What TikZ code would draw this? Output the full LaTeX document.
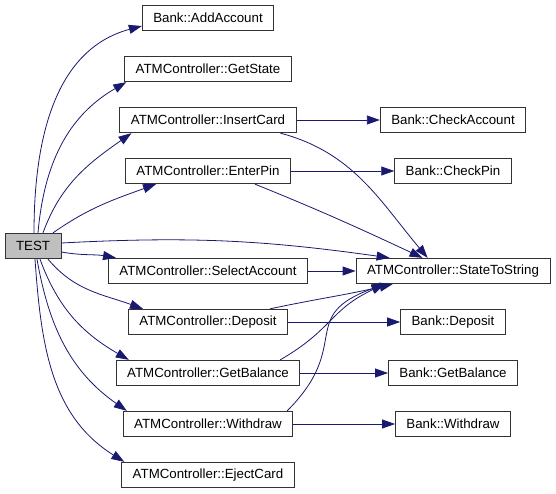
\documentclass[tikz,border=0pt]{standalone}
\usepackage{fontspec}
\setmainfont{Liberation Sans}
\usetikzlibrary{arrows.meta}
\definecolor{navy}{HTML}{191970}
\tikzset{
  fn/.style = {draw = black!80, line width = 0.8pt, fill = white,
    minimum height = 25.5pt, inner xsep = 11pt, inner ysep = 0pt,
    font = \fontsize{13.3}{15}\selectfont},
  root/.style = {fn, fill = black!25},
  call/.style = {draw = navy, line width = 0.8pt, -{Triangle[length = 13pt, width = 9pt]}},
}

\begin{document}
\begin{tikzpicture}[x = 1pt, y = 1pt]
            \useasboundingbox (0,0) rectangle (556,493);
            % caller
            \node[root](test)at(33,247){TEST};
            % first column
            \node[fn](addacc)at(208,475){Bank::AddAccount};
            \node[fn](getstate)at(208,424){ATMController::GetState};
            \node[fn](insertcard)at(208,373){ATMController::InsertCard};
            \node[fn](enterpin)at(208,322){ATMController::EnterPin};
            \node[fn](selectacc)at(208,222){ATMController::SelectAccount};
            \node[fn](deposit)at(208,171){ATMController::Deposit};
            \node[fn](getbal)at(208,120){ATMController::GetBalance};
            \node[fn](withdraw)at(208,69){ATMController::Withdraw};
            \node[fn](eject)at(208,18){ATMController::EjectCard};
            % second column
            \node[fn](checkacc)at(453,373){Bank::CheckAccount};
            \node[fn](checkpin)at(453,322){Bank::CheckPin};
            \node[fn](tostring)at(453,222){ATMController::StateToString};
            \node[fn](bdeposit)at(453,171){Bank::Deposit};
            \node[fn](bgetbal)at(453,120){Bank::GetBalance};
            \node[fn](bwithdraw)at(453,69){Bank::Withdraw};
            % TEST -> first column
            \path[call]([xshift=1pt]test.north)to[out=90,in=195]([yshift=-8pt]addacc.west);
            \path[call]([xshift=5pt]test.north)to[out=85,in=210]([xshift=2pt]getstate.south west);
            \path[call]([xshift=10pt]test.north)to[out=70,in=215]([xshift=12pt]insertcard.south west);
            \path[call]([xshift=20pt]test.north)to[out=35,in=200]([xshift=31pt]enterpin.south west);
            \path[call]([yshift=3pt]test.east)to[out=3,in=172]([xshift=34pt]tostring.north west);
            \path[call]([yshift=-6pt]test.east)to[out=-10,in=170]([xshift=8pt]selectacc.north west);
            \path[call]([xshift=15pt]test.south)to[out=-50,in=160]([xshift=15pt]deposit.north west);
            \path[call]([xshift=7pt]test.south)to[out=-70,in=150]([xshift=13pt]getbal.north west);
            \path[call]([xshift=4pt]test.south)to[out=-80,in=145]([xshift=4pt]withdraw.north west);
            \path[call]([xshift=2pt]test.south)to[out=-86,in=148]([xshift=3pt]eject.north west);
            % first column -> second column
            \path[call](insertcard)--(checkacc);
            \path[call]([xshift=-16pt]insertcard.south east)to[out=-15,in=130]([xshift=72pt]tostring.north west);
            \path[call](enterpin)--(checkpin);
            \path[call]([xshift=-36pt]enterpin.south east)to[out=-22,in=155]([xshift=67pt]tostring.north west);
            \path[call](selectacc)--(tostring);
            \path[call]([xshift=-18pt]deposit.north east)to[out=12,in=193]([xshift=37pt]tostring.south west);
            \path[call](deposit)--(bdeposit);
            \path[call]([xshift=-20pt]getbal.north east)to[out=30,in=205,looseness=1.2]([xshift=29pt]tostring.south west);
            \path[call](getbal)--(bgetbal);
            \path[call]([xshift=-6pt]withdraw.north east)to[out=45,in=200,looseness=1.5]([xshift=29pt]tostring.south west);
            \path[call](withdraw)--(bwithdraw);
        \end{tikzpicture}
\end{document}
